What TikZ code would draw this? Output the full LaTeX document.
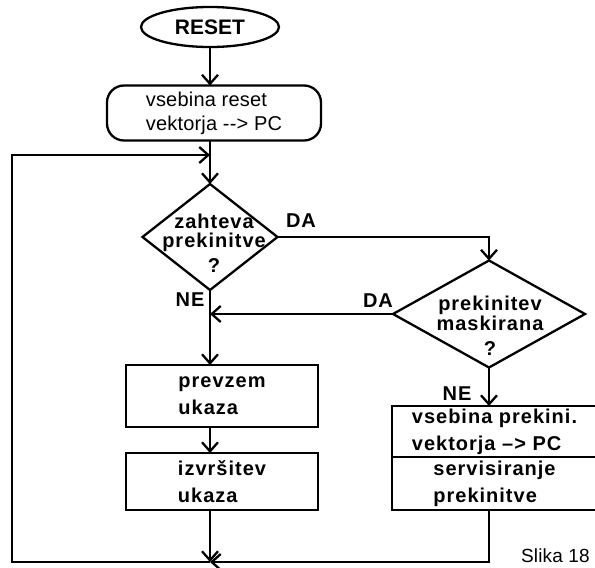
\documentclass[tikz,border=0pt]{standalone}
\usepackage{fontspec}
\setmainfont{Liberation Sans}
\newfontfamily\flowfont[LetterSpace=5]{Liberation Sans}
\newfontfamily\plainfont[LetterSpace=1]{Liberation Sans}
\usetikzlibrary{shapes.geometric,arrows.meta}

\begin{document}
\begin{tikzpicture}[x=1pt,y=-1pt,
  line width=2.3pt,
  every node/.style={outer sep=0pt},
  arr/.style={-{Straight Barb[length=9pt,width=16pt]}},
  boldtxt/.style={font=\flowfont\bfseries\fontsize{20}{27}\selectfont},
  plaintxt/.style={font=\plainfont\fontsize{20}{24}\selectfont},
  proc/.style={draw, rectangle, inner sep=0pt, align=left, boldtxt},
  decision/.style={draw, diamond, inner sep=0pt},
  dtext/.style={anchor=north, inner sep=0pt, align=center,
    font=\flowfont\bfseries\fontsize{20}{19.5}\selectfont},
  lbl/.style={inner sep=0pt, font=\flowfont\bfseries\fontsize{20}{20}\selectfont}]

\useasboundingbox (0,0) rectangle (595,568);

% start terminal and reset vector load
\node[draw, ellipse, minimum width=138pt, minimum height=40pt, inner sep=0pt,
  font=\bfseries\fontsize{21}{21}\selectfont] (reset) at (210,27) {RESET};
\node[draw, rounded corners=17pt, minimum width=214pt, minimum height=55pt,
  inner sep=0pt, align=left, plaintxt] (rbox) at (214,113)
  {vsebina reset\\vektorja -{}-> PC};

% decisions
\node[decision, minimum width=135pt, minimum height=106pt] (d1) at (210,237) {};
\node[dtext] (d1t) at (214,214) {zahteva\\prekinitve\\[5pt]?};
\node[decision, minimum width=192pt, minimum height=107pt] (d2) at (489,314) {};
\node[dtext, font=\flowfont\bfseries\fontsize{20}{20}\selectfont]
  (d2t) at (490,296) {prekinitev\\maskirana\\[5pt]?};

% main program steps
\node[proc, minimum width=192pt, minimum height=62pt] (b1) at (222,396) {prevzem\\ukaza};
\node[proc, minimum width=192pt, minimum height=57pt] (b2) at (222,481.5) {izvršitev\\ukaza};

% interrupt handling
\node[proc, minimum width=205pt, minimum height=51pt] (rtop) at (494.5,431.5)
  {vsebina prekini.\\vektorja –> PC};
\node[proc, minimum width=205pt, minimum height=53pt] (rbot) at (494.5,483.5)
  {servisiranje\\prekinitve};

% branch labels
\node[lbl] (da1) at (301,221) {DA};
\node[lbl] (da2) at (378,301) {DA};
\node[lbl] (ne1) at (190,300) {NE};
\node[lbl] (ne2) at (457,394) {NE};

\node[anchor=north west, inner sep=0pt, font=\plainfont\fontsize{19}{19}\selectfont]
  (cap) at (521,549) {Slika 18};

% loop corners
\coordinate (lt) at (12,155);
\coordinate (lb) at (12,562);
\coordinate (mg) at (210,562);

% connectors
\draw[arr] (reset.south) -- (reset.south |- rbox.north);
\draw[arr] (rbox.south -| d1.north) -- (d1.north);
\draw[arr] (mg) -- (lb) -- (lt) -- (lt -| d1.north);
\draw[arr] (d1.east) -- (d1.east -| d2.north) -- (d2.north);
\draw[arr] (d2.west) -- (d2.west -| d1.south);
\draw[arr] (d1.south) -- (d1.south |- b1.north);
\draw[arr] (b1.south -| d1.south) -- (b2.north -| d1.south);
\draw[arr] (b2.south -| d1.south) -- (mg);
\draw[arr] (d2.south) -- (d2.south |- rtop.north);
\draw[arr] (rbot.south -| d2.south) -- (d2.south |- mg) -- (mg);
\end{tikzpicture}
\end{document}
